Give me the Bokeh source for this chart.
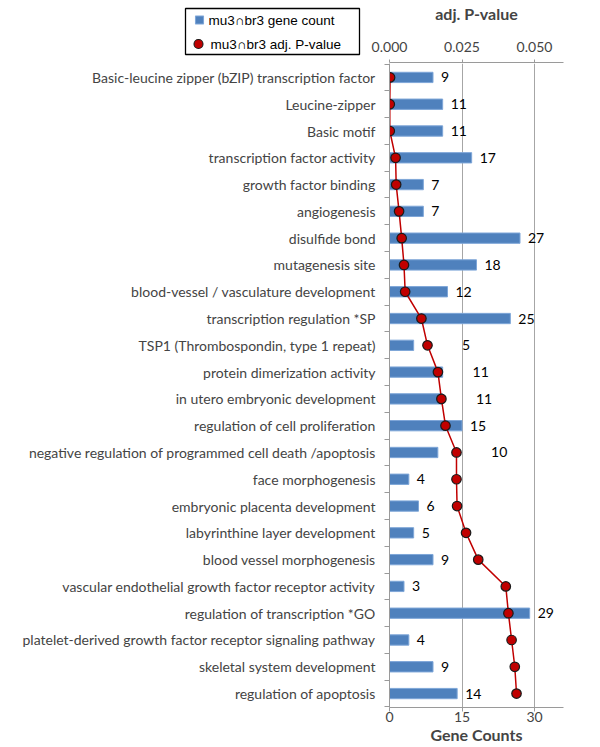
from bokeh.plotting import figure
from bokeh.layouts import column, row
from bokeh.models import ColumnDataSource, Range1d, FixedTicker, NumeralTickFormatter
from bokeh.core.properties import value
from bokeh.embed import file_html
from bokeh.resources import INLINE

categories = [
    "Basic-leucine zipper (bZIP) transcription factor",
    "Leucine-zipper",
    "Basic motif",
    "transcription factor activity",
    "growth factor binding",
    "angiogenesis",
    "disulfide bond",
    "mutagenesis site",
    "blood-vessel / vasculature development",
    "transcription regulation *SP",
    "TSP1 (Thrombospondin, type 1 repeat)",
    "protein dimerization activity",
    "in utero embryonic development",
    "regulation of cell proliferation",
    "negative regulation of programmed cell death /apoptosis",
    "face morphogenesis",
    "embryonic placenta development",
    "labyrinthine layer development",
    "blood vessel morphogenesis",
    "vascular endothelial growth factor receptor activity",
    "regulation of transcription *GO",
    "platelet-derived growth factor receptor signaling pathway",
    "skeletal system development",
    "regulation of apoptosis",
]
gene_counts = [9, 11, 11, 17, 7, 7, 27, 18, 12, 25, 5, 11, 11, 15, 10, 4, 6, 5, 9, 3, 29, 4, 9, 14]
p_values = [0.0002, 0.0001, 0.0001, 0.0021, 0.0023, 0.0033, 0.0042, 0.0050, 0.0054,
            0.0110, 0.0131, 0.0167, 0.0179, 0.0193, 0.0231, 0.0231, 0.0233, 0.0264,
            0.0306, 0.0401, 0.0410, 0.0421, 0.0432, 0.0438]
count_ticks = [0, 15, 30]
pvalue_ticks = [0.0, 0.025, 0.05]
legend_labels = ["mu3\u2229br3  gene count", "mu3\u2229br3  adj. P-value"]
legend_markers = ["square", "circle"]

BAR_COLOR = "#4F81BD"
BAR_EDGE = "#7EA6D8"
PT_COLOR = "#C00000"
PT_EDGE = "#1a1a1a"
AXIS_GRAY = "#9a9a9a"
COUNT_MAX = 36
P_MAX = 0.06
scale = COUNT_MAX / P_MAX

ys = list(range(len(categories)))
label_x = []
for c, pv in zip(gene_counts, p_values):
    px = pv * scale
    if c - 1 < px < c + 4:
        label_x.append(px + 5.5)
    else:
        label_x.append(c)

src = ColumnDataSource(dict(y=ys, cat=categories, count=gene_counts, p=p_values,
                            lx=label_x, lbl=[str(c) for c in gene_counts]))
pval_range = Range1d(0, P_MAX)

# ---------------- header, left part: legend box (drawn in a pixel-like frame) ----------------
HEAD_W, HEAD_H = 367, 63
leg_fig = figure(width=HEAD_W, height=HEAD_H, output_backend="svg", toolbar_location=None,
                 x_range=Range1d(0, HEAD_W), y_range=Range1d(HEAD_H, 0),
                 x_axis_location=None, y_axis_location=None,
                 min_border_left=0, min_border_right=0, min_border_top=0, min_border_bottom=0)
leg_fig.outline_line_color = None
leg_fig.grid.grid_line_color = None
leg_fig.quad(left=[185], right=[359], top=[8], bottom=[54],
             fill_color="#ffffff", line_color="#000000", line_width=1.3)
leg_src = ColumnDataSource(dict(mx=[199, 198], my=[19.5, 43.5], marker=legend_markers,
                                fill=[BAR_COLOR, PT_COLOR], edge=[BAR_EDGE, PT_EDGE],
                                size=[8, 9], tx=[208, 210], label=legend_labels))
leg_fig.scatter(x="mx", y="my", marker="marker", size="size", fill_color="fill",
                line_color="edge", line_width=1.1, source=leg_src)
leg_fig.text(x="tx", y="my", text="label", source=leg_src, text_baseline="middle",
             text_align="left", text_font=value("Liberation Sans"), text_font_size="13.5px",
             text_color="#000000")

# ---------------- header, right part: top axis (adj. P-value) ----------------
top_fig = figure(width=229, height=HEAD_H, output_backend="svg", toolbar_location=None,
                 x_range=pval_range, y_range=Range1d(0, 1),
                 x_axis_location="above", y_axis_location=None,
                 min_border_left=22, min_border_right=33, min_border_top=62, min_border_bottom=0)
top_fig.outline_line_color = None
top_fig.grid.grid_line_color = None
ta = top_fig.xaxis[0]
ta.ticker = FixedTicker(ticks=pvalue_ticks)
ta.formatter = NumeralTickFormatter(format="0.000")
ta.axis_label = "adj. P-value"
ta.axis_label_text_font = "Lato"
ta.axis_label_text_font_style = "bold"
ta.axis_label_text_font_size = "16px"
ta.axis_label_standoff = 16
ta.major_label_text_font = "Lato"
ta.major_label_text_font_size = "14px"
ta.major_label_standoff = 8
ta.axis_line_color = AXIS_GRAY
ta.major_tick_line_color = AXIS_GRAY
ta.major_tick_out = 3
ta.major_tick_in = 0
ta.minor_tick_line_color = None

# ---------------- main chart ----------------
p = figure(width=596, height=683, output_backend="svg", toolbar_location=None,
           x_range=Range1d(0, COUNT_MAX), y_range=Range1d(len(categories) - 0.48, -0.52),
           min_border_left=389, min_border_right=33, min_border_top=0, min_border_bottom=37)
p.outline_line_color = None
p.extra_x_ranges = {"pval": pval_range}

p.hbar(y="y", left=0, right="count", height=0.385, source=src,
       fill_color=BAR_COLOR, line_color=BAR_EDGE, line_width=1)
p.line(x="p", y="y", source=src, x_range_name="pval", line_color=PT_COLOR, line_width=1.5)
p.scatter(x="p", y="y", source=src, x_range_name="pval", size=9.5,
          fill_color=PT_COLOR, line_color=PT_EDGE, line_width=1.2)
p.text(x="lx", y="y", text="lbl", source=src, x_offset=8, text_baseline="middle",
       text_font=value("Lato"), text_font_size="14px", text_color="#000000")

xa = p.xaxis[0]
xa.ticker = FixedTicker(ticks=count_ticks)
xa.axis_label = "Gene Counts"
xa.axis_label_text_font = "Lato"
xa.axis_label_text_font_style = "bold"
xa.axis_label_text_font_size = "16px"
xa.axis_label_standoff = 0
xa.major_label_text_font = "Lato"
xa.major_label_text_font_size = "14px"
xa.major_label_standoff = 0
xa.axis_line_color = AXIS_GRAY
xa.major_tick_line_color = AXIS_GRAY
xa.major_tick_out = 4
xa.major_tick_in = 0
xa.minor_tick_line_color = None

ya = p.yaxis[0]
ya.ticker = FixedTicker(ticks=ys, minor_ticks=[i - 0.5 for i in range(len(categories) + 1)])
ya.major_label_overrides = {i: c for i, c in enumerate(categories)}
ya.major_label_text_font = "Lato"
ya.major_label_text_font_size = "14px"
ya.major_label_standoff = 8
ya.major_tick_line_color = None
ya.minor_tick_line_color = AXIS_GRAY
ya.minor_tick_out = 5
ya.minor_tick_in = 0
ya.axis_line_color = AXIS_GRAY

p.xgrid.ticker = FixedTicker(ticks=[15, 30])
p.xgrid.grid_line_color = "#a6a6a6"
p.ygrid.grid_line_color = None

# legend figure is wrapped in its own column so its frame is not aligned with the axis header
header = row(column(leg_fig, spacing=0), top_fig, spacing=0)
layout = column(header, p, spacing=0)
open("out.html", "w").write(file_html(layout, INLINE))
